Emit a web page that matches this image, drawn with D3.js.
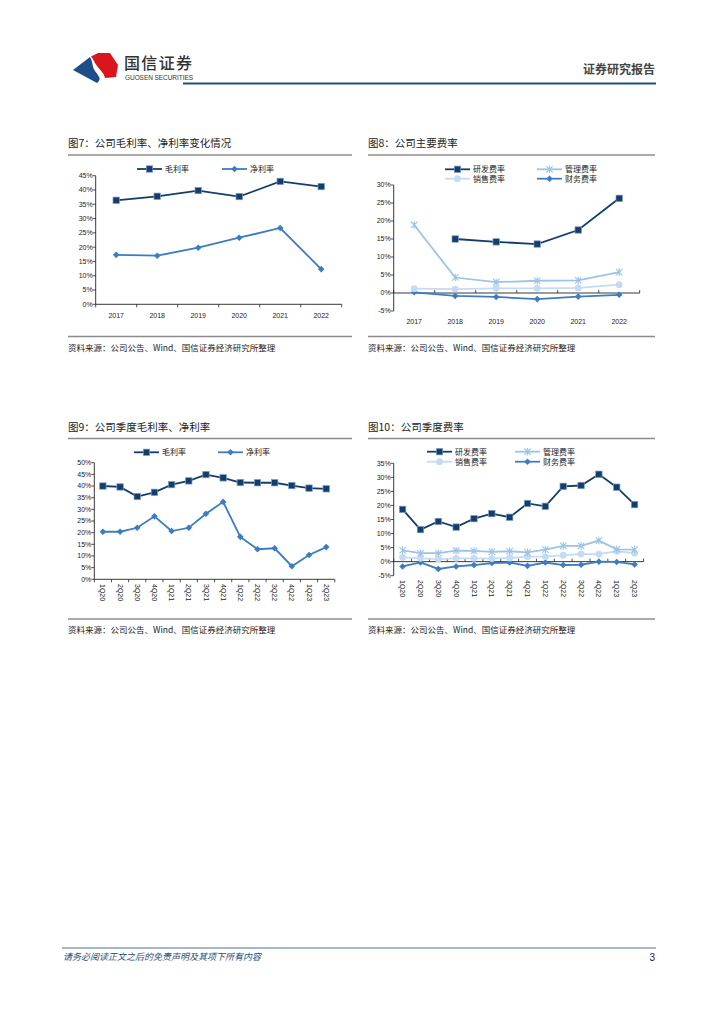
<!DOCTYPE html>
<html>
<head>
<meta charset="utf-8">
<script src="https://cdn.jsdelivr.net/npm/d3@7"></script>
<style>
  body { margin: 0; background: #fff; }
  svg { display: block; }
</style>
</head>
<body>
<div id="page"></div>
<script>
// 年度数据
const years = ['2017', '2018', '2019', '2020', '2021', '2022'];
const grossMarginYear = [36.4, 37.8, 39.8, 37.7, 43.0, 41.2];
const netMarginYear = [17.3, 17.0, 19.8, 23.3, 26.7, 12.3];
const rdRateYear = [null, 15.0, 14.2, 13.6, 17.5, 26.3];
const mgmtRateYear = [18.9, 4.3, 3.0, 3.4, 3.5, 5.8];
const salesRateYear = [1.2, 1.1, 1.3, 1.3, 1.4, 2.3];
const finRateYear = [0.2, -0.8, -1.1, -1.7, -1.0, -0.5];

// 季度数据
const quarters = ['1Q20', '2Q20', '3Q20', '4Q20', '1Q21', '2Q21', '3Q21', '4Q21',
                  '1Q22', '2Q22', '3Q22', '4Q22', '1Q23', '2Q23'];
const grossMarginQ = [40.0, 39.6, 35.5, 37.3, 40.6, 42.2, 44.9, 43.5, 41.5, 41.4, 41.4, 40.2, 39.1, 38.8];
const netMarginQ = [20.4, 20.4, 22.1, 27.0, 20.7, 22.1, 28.1, 33.2, 18.2, 12.9, 13.3, 5.6, 10.4, 13.8];
const rdRateQ = [18.6, 11.4, 14.3, 12.3, 15.3, 17.1, 15.8, 20.7, 19.7, 26.8, 27.1, 31.1, 26.5, 20.3];
const mgmtRateQ = [4.0, 3.0, 3.0, 3.9, 3.8, 3.5, 3.7, 3.3, 4.3, 5.6, 5.6, 7.5, 4.4, 4.3];
const salesRateQ = [1.5, 1.2, 0.9, 1.2, 1.2, 1.1, 1.3, 1.8, 1.8, 2.3, 2.7, 2.7, 3.7, 3.0];
const finRateQ = [-1.7, -0.3, -2.6, -1.7, -1.2, -0.5, -0.3, -1.5, -0.3, -1.2, -1.1, 0.0, -0.1, -1.0];

const NAVY = '#123e6c', MID = '#3b7dc0', LIGHT = '#9cc3e8', PALE = '#c4dbf1';
const CJK = '"Noto Sans CJK SC", "Noto Sans", sans-serif';
const LAT = '"Liberation Sans", Arial, sans-serif';
const SOURCE = '资料来源：公司公告、Wind、国信证券经济研究所整理';

const svg = d3.select('#page').append('svg')
    .attr('width', 724).attr('height', 1024);

// ---- 页眉 ----
const logo = svg.append('g');
logo.append('path')
    .attr('d', 'M73,70 L90,57 C93,62 92,67 95,71 C98,75 101,78 99,81 L97,83 Z')
    .attr('fill', '#1d4e89');
logo.append('path')
    .attr('d', 'M91,56.5 L98,53 L110,53 L118,65 L116,77 L105,78 C104,73 100,70 97,66 C94,62 94,60 91,56.5 Z')
    .attr('fill', '#d9151e');
svg.append('text').attr('x', 124).attr('y', 69)
    .attr('font-family', CJK).attr('font-size', 16).attr('font-weight', 500)
    .attr('fill', '#333').attr('textLength', 68).text('国信证券');
svg.append('text').attr('x', 125).attr('y', 80)
    .attr('font-family', LAT).attr('font-size', 6.5).attr('fill', '#333')
    .attr('textLength', 68).text('GUOSEN SECURITIES');
svg.append('text').attr('x', 655).attr('y', 74).attr('text-anchor', 'end')
    .attr('font-family', CJK).attr('font-size', 12).attr('font-weight', 'bold')
    .attr('fill', '#444').text('证券研究报告');
svg.append('line').attr('x1', 183).attr('x2', 656).attr('y1', 83.5).attr('y2', 83.5)
    .attr('stroke', '#1f4e79').attr('stroke-width', 2.2);

// ---- 页脚 ----
svg.append('line').attr('x1', 62).attr('x2', 656).attr('y1', 948).attr('y2', 948)
    .attr('stroke', '#1f4e79').attr('stroke-width', 0.8);
svg.append('text').attr('x', 63).attr('y', 960)
    .attr('font-family', CJK).attr('font-size', 9).attr('font-style', 'italic')
    .attr('fill', '#1f4e79').text('请务必阅读正文之后的免责声明及其项下所有内容');
svg.append('text').attr('x', 655).attr('y', 961).attr('text-anchor', 'end')
    .attr('font-family', LAT).attr('font-size', 10).attr('fill', '#222').text('3');

// 标记
function drawMarker(g, type, x, y, color) {
    if (type === 'square') {
        g.append('rect').attr('x', x - 3.2).attr('y', y - 3.2).attr('width', 6.4).attr('height', 6.4)
            .attr('fill', color).attr('stroke', '#7f9cc2').attr('stroke-width', 0.7);
    } else if (type === 'diamond') {
        g.append('path').attr('d', `M${x},${y - 3.3}L${x + 3.3},${y}L${x},${y + 3.3}L${x - 3.3},${y}Z`)
            .attr('fill', color);
    } else if (type === 'circle') {
        g.append('circle').attr('cx', x).attr('cy', y).attr('r', 3.4).attr('fill', color);
    } else if (type === 'star') {
        const r = 3.2;
        g.append('path')
            .attr('d', `M${x - r},${y - r}L${x + r},${y + r}M${x - r},${y + r}L${x + r},${y - r}M${x},${y - r - 0.6}L${x},${y + r + 0.6}`)
            .attr('stroke', color).attr('stroke-width', 1.1).attr('fill', 'none');
    }
}

function drawChart(o) {
    const g = svg.append('g');
    // 标题
    g.append('text').attr('x', o.left).attr('y', o.titleY)
        .attr('font-family', CJK).attr('font-size', 10.5).attr('fill', '#222').text(o.title);
    g.append('line').attr('x1', o.left).attr('x2', o.right).attr('y1', o.titleY + 8).attr('y2', o.titleY + 8)
        .attr('stroke', '#8c8c8c').attr('stroke-width', 1.3);
    // 来源
    g.append('line').attr('x1', o.left).attr('x2', o.right).attr('y1', o.srcLineY).attr('y2', o.srcLineY)
        .attr('stroke', '#8c8c8c').attr('stroke-width', 1.3);
    g.append('text').attr('x', o.left).attr('y', o.srcLineY + 14)
        .attr('font-family', CJK).attr('font-size', 8.5).attr('fill', '#222').text(SOURCE);

    const x = d3.scaleBand().domain(o.categories).range([o.x0, o.x1]);
    const y = d3.scaleLinear().domain(o.domain).range([o.yBottom, o.yTop]);
    const ticks = d3.range(o.domain[0], o.domain[1] + 0.001, o.step);

    // Y 轴
    g.append('line').attr('x1', o.x0).attr('x2', o.x0).attr('y1', y(o.domain[0])).attr('y2', y(o.domain[1]))
        .attr('stroke', '#222').attr('stroke-width', 0.9);
    g.selectAll('.yt').data(ticks).enter().append('line')
        .attr('x1', o.x0 - 3).attr('x2', o.x0).attr('y1', d => y(d)).attr('y2', d => y(d))
        .attr('stroke', '#222').attr('stroke-width', 0.8);
    g.selectAll('.yl').data(ticks).enter().append('text')
        .attr('x', o.x0 - 3).attr('y', d => y(d)).attr('dy', '0.35em').attr('text-anchor', 'end')
        .attr('font-family', LAT).attr('font-size', 7).attr('fill', '#222')
        .text(d => d + '%');

    // X 轴（在 0 处）
    const y0 = y(0);
    g.append('line').attr('x1', o.x0).attr('x2', o.x1).attr('y1', y0).attr('y2', y0)
        .attr('stroke', '#222').attr('stroke-width', 0.9);
    const bounds = o.categories.map(c => x(c)).concat([o.x1]);
    const dir = o.domain[0] < 0 ? -3 : 3;
    g.selectAll('.xt').data(bounds).enter().append('line')
        .attr('x1', d => d).attr('x2', d => d).attr('y1', y0).attr('y2', y0 + dir)
        .attr('stroke', '#222').attr('stroke-width', 0.8);
    if (o.rotate) {
        g.selectAll('.xl').data(o.categories).enter().append('text')
            .attr('transform', d => `translate(${x(d) + x.bandwidth() / 2},${o.labelY}) rotate(90)`)
            .attr('dy', '0.35em').attr('font-family', LAT).attr('font-size', 7).attr('fill', '#222')
            .text(d => d);
    } else {
        g.selectAll('.xl').data(o.categories).enter().append('text')
            .attr('x', d => x(d) + x.bandwidth() / 2).attr('y', o.labelY).attr('text-anchor', 'middle')
            .attr('font-family', LAT).attr('font-size', 7).attr('fill', '#222')
            .text(d => d);
    }

    // 系列
    const line = d3.line()
        .defined(d => d.v !== null)
        .x(d => x(d.c) + x.bandwidth() / 2)
        .y(d => y(d.v));
    o.series.slice().reverse().forEach(s => {
        const pts = o.categories.map((c, i) => ({ c, v: s.values[i] }));
        g.append('path').datum(pts).attr('d', line)
            .attr('fill', 'none').attr('stroke', s.color).attr('stroke-width', s.width || 1.8);
        pts.filter(p => p.v !== null).forEach(p =>
            drawMarker(g, s.marker, x(p.c) + x.bandwidth() / 2, y(p.v), s.color));
    });

    // 图例
    o.series.forEach((s, i) => {
        const L = o.legend[i];
        g.append('line').attr('x1', L[0]).attr('x2', L[0] + 25).attr('y1', L[1]).attr('y2', L[1])
            .attr('stroke', s.color).attr('stroke-width', 1.8);
        drawMarker(g, s.marker, L[0] + 12.5, L[1], s.color);
        g.append('text').attr('x', L[0] + 28).attr('y', L[1]).attr('dy', '0.35em')
            .attr('font-family', CJK).attr('font-size', 8).attr('fill', '#222').text(s.name);
    });
}

// 图7
drawChart({
    title: '图7：公司毛利率、净利率变化情况', left: 68, right: 352, titleY: 147, srcLineY: 336.5,
    categories: years, x0: 95.7, x1: 341.7, yTop: 175.7, yBottom: 304.3,
    domain: [0, 45], step: 5, labelY: 318,
    series: [
        { name: '毛利率', values: grossMarginYear, color: NAVY, marker: 'square' },
        { name: '净利率', values: netMarginYear, color: MID, marker: 'diamond' }
    ],
    legend: [[137, 169], [222, 169]]
});

// 图8
drawChart({
    title: '图8：公司主要费率', left: 368, right: 655, titleY: 147, srcLineY: 336.5,
    categories: years, x0: 393.7, x1: 639.7, yTop: 185, yBottom: 311,
    domain: [-5, 30], step: 5, labelY: 324,
    series: [
        { name: '研发费率', values: rdRateYear, color: NAVY, marker: 'square' },
        { name: '管理费率', values: mgmtRateYear, color: LIGHT, marker: 'star' },
        { name: '销售费率', values: salesRateYear, color: PALE, marker: 'circle' },
        { name: '财务费率', values: finRateYear, color: MID, marker: 'diamond' }
    ],
    legend: [[445, 169.3], [537, 169.3], [445, 178.7], [537, 178.7]]
});

// 图9
drawChart({
    title: '图9：公司季度毛利率、净利率', left: 68, right: 352, titleY: 430.5, srcLineY: 619,
    categories: quarters, x0: 94.3, x1: 334.8, yTop: 462.7, yBottom: 579.3,
    domain: [0, 50], step: 5, labelY: 584, rotate: true,
    series: [
        { name: '毛利率', values: grossMarginQ, color: NAVY, marker: 'square' },
        { name: '净利率', values: netMarginQ, color: MID, marker: 'diamond' }
    ],
    legend: [[134, 452.3], [218, 452.3]]
});

// 图10
drawChart({
    title: '图10：公司季度费率', left: 368, right: 655, titleY: 430.5, srcLineY: 619,
    categories: quarters, x0: 393.7, x1: 643.5, yTop: 463.3, yBottom: 575.7,
    domain: [-5, 35], step: 5, labelY: 580, rotate: true,
    series: [
        { name: '研发费率', values: rdRateQ, color: NAVY, marker: 'square' },
        { name: '管理费率', values: mgmtRateQ, color: LIGHT, marker: 'star' },
        { name: '销售费率', values: salesRateQ, color: PALE, marker: 'circle' },
        { name: '财务费率', values: finRateQ, color: MID, marker: 'diamond' }
    ],
    legend: [[427, 451.7], [515, 451.7], [427, 461.7], [515, 461.7]]
});
</script>
</body>
</html>
